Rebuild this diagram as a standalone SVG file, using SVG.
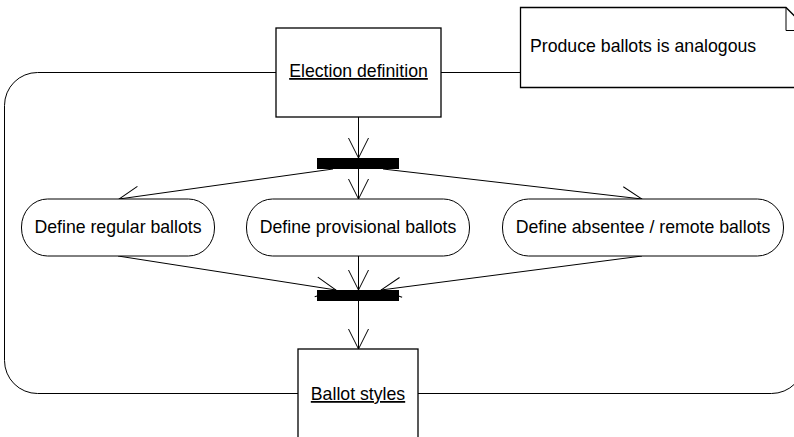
<svg xmlns="http://www.w3.org/2000/svg" width="794" height="437" viewBox="0 0 794 437">
<style>
  text { font-family: "Liberation Sans", Arial, sans-serif; font-size: 17.7px; fill: #000; }
  .u { text-decoration: underline; }
  .box { fill: #fff; stroke: #000; stroke-width: 1.3; }
  .act { fill: #fff; stroke: #000; stroke-width: 1; }
  .bar { fill: #000; }
  .conn line, .conn path { stroke: #000; stroke-width: 1; fill: none; }
</style>
<defs>
  <marker id="arr" markerUnits="userSpaceOnUse" markerWidth="24" markerHeight="24" viewBox="-22 -12 24 24" refX="0" refY="0" orient="auto">
    <path d="M-20,-10 L0,0 L-20,10" fill="none" stroke="#000" stroke-width="1"/>
  </marker>
</defs>
<rect width="794" height="437" fill="#fff"/>
<g class="conn" id="connectors">
  <rect x="4.5" y="72.5" width="800" height="321" rx="33" ry="33" fill="none" stroke="#000" stroke-width="1"/>
  <line x1="358.5" y1="117" x2="358.5" y2="158" marker-end="url(#arr)"/>
  <line x1="358.5" y1="169" x2="358.5" y2="199" marker-end="url(#arr)"/>
  <line x1="333" y1="169" x2="119" y2="199" marker-end="url(#arr)"/>
  <line x1="383" y1="169" x2="642" y2="199" marker-end="url(#arr)"/>
  <line x1="118" y1="256" x2="336" y2="290" marker-end="url(#arr)"/>
  <line x1="358.5" y1="256" x2="358.5" y2="290" marker-end="url(#arr)"/>
  <line x1="642" y1="256" x2="381" y2="290" marker-end="url(#arr)"/>
  <line x1="358.5" y1="301" x2="358.5" y2="349" marker-end="url(#arr)"/>
</g>
<g id="election-definition">
  <rect class="box" x="276" y="28" width="165" height="89"/>
  <text class="u" x="358.5" y="77" text-anchor="middle">Election definition</text>
</g>
<g id="note">
  <path class="box" d="M520.5,7.5 L786,7.5 L809,30.5 L809,87.5 L520.5,87.5 Z" stroke-width="1"/>
  <path d="M786,7.5 L786,30.5 L809,30.5" fill="none" stroke="#000" stroke-width="1"/>
  <text x="530" y="52">Produce ballots is analogous</text>
</g>
<g id="fork">
  <rect class="bar" x="317" y="158" width="82" height="11"/>
</g>
<g id="define-regular">
  <rect class="act" x="21.5" y="199" width="193" height="57" rx="26" ry="28"/>
  <text x="118" y="233" text-anchor="middle">Define regular ballots</text>
</g>
<g id="define-provisional">
  <rect class="act" x="246.5" y="199" width="223" height="57" rx="26" ry="28"/>
  <text x="358" y="233" text-anchor="middle">Define provisional ballots</text>
</g>
<g id="define-absentee">
  <rect class="act" x="502.5" y="199" width="281" height="57" rx="26" ry="28"/>
  <text x="643" y="233" text-anchor="middle">Define absentee / remote ballots</text>
</g>
<g id="join">
  <rect class="bar" x="317" y="290" width="82" height="11"/>
</g>
<g id="ballot-styles">
  <rect class="box" x="298" y="349" width="120" height="90"/>
  <text class="u" x="358" y="400" text-anchor="middle">Ballot styles</text>
</g>
</svg>
